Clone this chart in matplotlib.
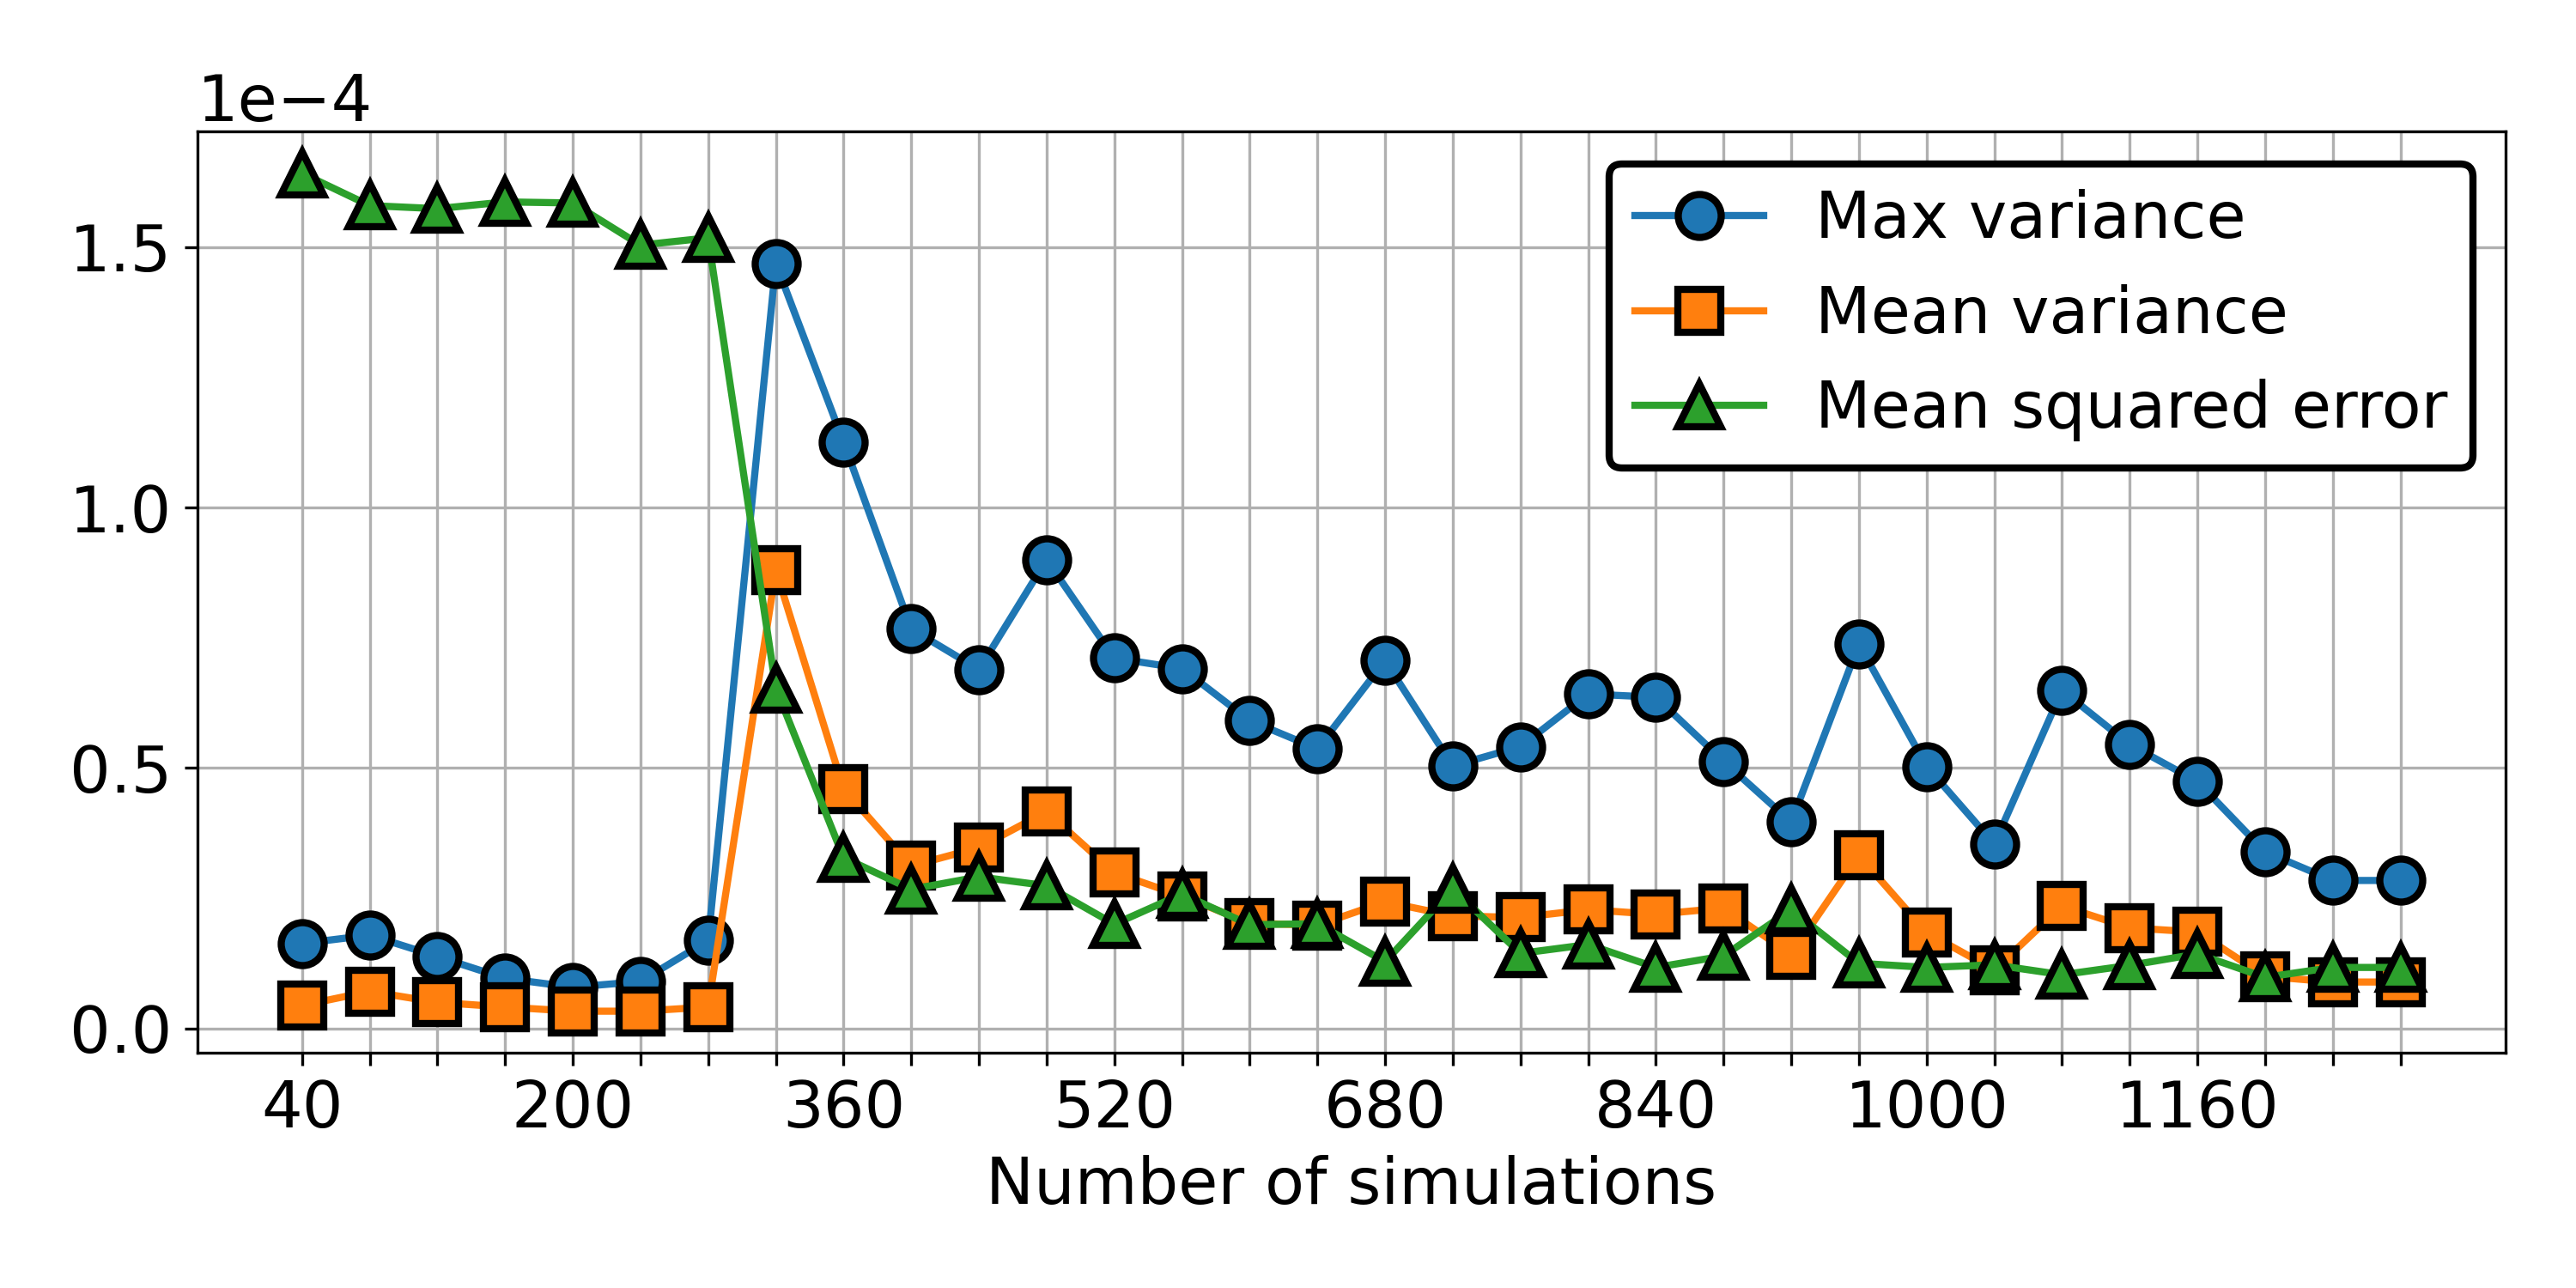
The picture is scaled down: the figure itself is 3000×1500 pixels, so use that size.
import matplotlib
matplotlib.use("Agg")
import matplotlib.pyplot as plt
import numpy as np

# Number of simulations (x axis)
n_sims = np.arange(40, 1281, 40)

# values, in units of 1e-4
max_variance = [0.163, 0.179, 0.138, 0.096, 0.079, 0.090, 0.169, 1.469,
                1.126, 0.767, 0.689, 0.900, 0.711, 0.691, 0.591, 0.537,
                0.706, 0.504, 0.541, 0.642, 0.636, 0.513, 0.396, 0.738,
                0.503, 0.354, 0.649, 0.545, 0.474, 0.339, 0.284, 0.284]
mean_variance = [0.044, 0.071, 0.050, 0.041, 0.033, 0.033, 0.041, 0.880,
                 0.460, 0.312, 0.347, 0.416, 0.299, 0.254, 0.202, 0.198,
                 0.243, 0.216, 0.213, 0.228, 0.219, 0.231, 0.142, 0.332,
                 0.184, 0.112, 0.235, 0.193, 0.185, 0.100, 0.089, 0.089]
mse = [1.642, 1.580, 1.574, 1.587, 1.585, 1.504, 1.518, 0.653,
       0.328, 0.267, 0.291, 0.274, 0.200, 0.258, 0.199, 0.201,
       0.128, 0.268, 0.144, 0.161, 0.117, 0.139, 0.228, 0.125,
       0.117, 0.122, 0.103, 0.121, 0.143, 0.098, 0.117, 0.117]

scale = 1e-4
tick_labels = [str(v) if i % 4 == 0 else '' for i, v in enumerate(n_sims)]

fig, ax = plt.subplots(figsize=(10, 5), dpi=300)

style = dict(markersize=12, markeredgecolor='black', markeredgewidth=2, linewidth=2)
ax.plot(n_sims, np.array(max_variance) * scale, marker='o', color='#1f77b4',
        label='Max variance', **style)
ax.plot(n_sims, np.array(mean_variance) * scale, marker='s', color='#ff7f0e',
        label='Mean variance', **style)
ax.plot(n_sims, np.array(mse) * scale, marker='^', color='#2ca02c',
        label='Mean squared error', **style)

ax.set_xticks(n_sims)
ax.set_xticklabels(tick_labels)
ax.set_yticks(np.array([0.0, 0.5, 1.0, 1.5]) * scale)
ax.ticklabel_format(axis='y', style='sci', scilimits=(0, 0))
ax.tick_params(axis='both', labelsize=18)
ax.yaxis.get_offset_text().set_fontsize(18)
ax.set_xlabel('Number of simulations', fontsize=18)
ax.grid(True)

leg = ax.legend(loc='upper right', fontsize=18, framealpha=1)
leg.get_frame().set_edgecolor('black')
leg.get_frame().set_linewidth(2)

plt.subplots_adjust(left=0.0765, right=0.9726, top=0.898, bottom=0.1824)
plt.savefig('out.png', dpi=300)
